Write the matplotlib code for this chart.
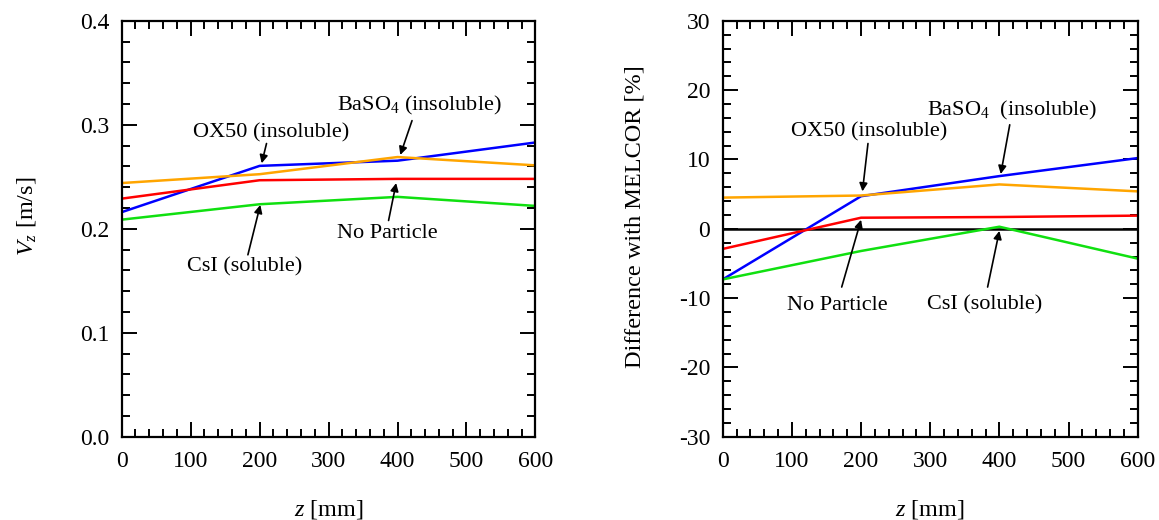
import matplotlib.pyplot as plt
from matplotlib.ticker import MultipleLocator

plt.rcParams['font.family'] = ['Liberation Serif', 'DejaVu Serif']
plt.rcParams['mathtext.fontset'] = 'custom'
plt.rcParams['mathtext.rm'] = 'Liberation Serif'
plt.rcParams['mathtext.it'] = 'Liberation Serif:italic'
plt.rcParams['axes.unicode_minus'] = False

# positions along the duct, mm
z = [0, 200, 400, 600]

# axial velocity, m/s
vz_ox50 = [0.216, 0.2605, 0.2655, 0.283]
vz_baso4 = [0.244, 0.2525, 0.269, 0.261]
vz_nopart = [0.229, 0.2467, 0.248, 0.248]
vz_csi = [0.2088, 0.2236, 0.2307, 0.222]

# difference with MELCOR, %
d_ox50 = [-7.3, 4.7, 7.6, 10.2]
d_baso4 = [4.5, 4.8, 6.4, 5.4]
d_nopart = [-2.9, 1.6, 1.7, 1.9]
d_csi = [-7.3, -3.2, 0.3, -4.3]

c_blue = '#0000ff'
c_orange = '#ffa500'
c_red = '#ff0000'
c_green = '#10e010'

fig = plt.figure(figsize=(11.59, 5.2), dpi=100)
ax1 = fig.add_axes([0.105, 0.160, 0.357, 0.800])
ax2 = fig.add_axes([0.6236, 0.160, 0.358, 0.800])


def style(ax):
    for s in ax.spines.values():
        s.set_linewidth(1.6)
    ax.tick_params(which='both', direction='in', top=True, right=True,
                   labelsize=17, width=1.4)
    ax.tick_params(which='major', length=11)
    ax.tick_params(which='minor', length=6)
    ax.tick_params(axis='x', pad=10)
    ax.tick_params(axis='y', pad=9)
    ax.xaxis.set_major_locator(MultipleLocator(100))
    ax.xaxis.set_minor_locator(MultipleLocator(20))
    ax.set_xlim(0, 600)
    ax.set_xlabel('$z$ [mm]', fontsize=17.5, labelpad=19)


def note(ax, label, txt, tail, head):
    ax.text(txt[0], txt[1], label, fontsize=16, ha='center', va='center')
    ax.annotate('', xy=head, xytext=tail,
                arrowprops=dict(arrowstyle='-|>', color='k', lw=1.2,
                                mutation_scale=12, shrinkA=0, shrinkB=0))


lw = 1.8
ax1.plot(z, vz_ox50, color=c_blue, lw=lw)
ax1.plot(z, vz_baso4, color=c_orange, lw=lw)
ax1.plot(z, vz_nopart, color=c_red, lw=lw)
ax1.plot(z, vz_csi, color=c_green, lw=lw)
style(ax1)
ax1.set_ylim(0, 0.4)
ax1.yaxis.set_major_locator(MultipleLocator(0.1))
ax1.yaxis.set_minor_locator(MultipleLocator(0.02))
ax1.yaxis.set_major_formatter(lambda v, p: f'{v:.1f}')
ax1.set_ylabel('$V_z$ [m/s]', fontsize=17.5)
ax1.yaxis.set_label_coords(-0.203, 0.53)

note(ax1, 'OX50 (insoluble)', (217, 0.292), (210, 0.282), (203, 0.263))
note(ax1, 'BaSO$_4$ (insoluble)', (431, 0.319), (421, 0.304), (404, 0.271))
note(ax1, 'No Particle', (385, 0.195), (387, 0.208), (398, 0.244))
note(ax1, 'CsI (soluble)', (178, 0.163), (183, 0.175), (201, 0.223))

ax2.axhline(0, color='k', lw=1.8)
ax2.plot(z, d_ox50, color=c_blue, lw=lw)
ax2.plot(z, d_baso4, color=c_orange, lw=lw)
ax2.plot(z, d_nopart, color=c_red, lw=lw)
ax2.plot(z, d_csi, color=c_green, lw=lw)
style(ax2)
ax2.set_ylim(-30, 30)
ax2.yaxis.set_major_locator(MultipleLocator(10))
ax2.yaxis.set_minor_locator(MultipleLocator(2))
ax2.set_ylabel('Difference with MELCOR [%]', fontsize=17.5)
ax2.yaxis.set_label_coords(-0.186, 0.53)

note(ax2, 'OX50 (insoluble)', (212, 14.0), (210, 12.3), (202, 5.4))
note(ax2, 'BaSO$_4$  (insoluble)', (419, 17.1), (415, 15.0), (402, 7.9))
note(ax2, 'No Particle', (166, -11.0), (172, -8.4), (200, 1.3))
note(ax2, 'CsI (soluble)', (379, -11.0), (383, -8.4), (400, -0.3))

fig.savefig('out.png', dpi=100)
